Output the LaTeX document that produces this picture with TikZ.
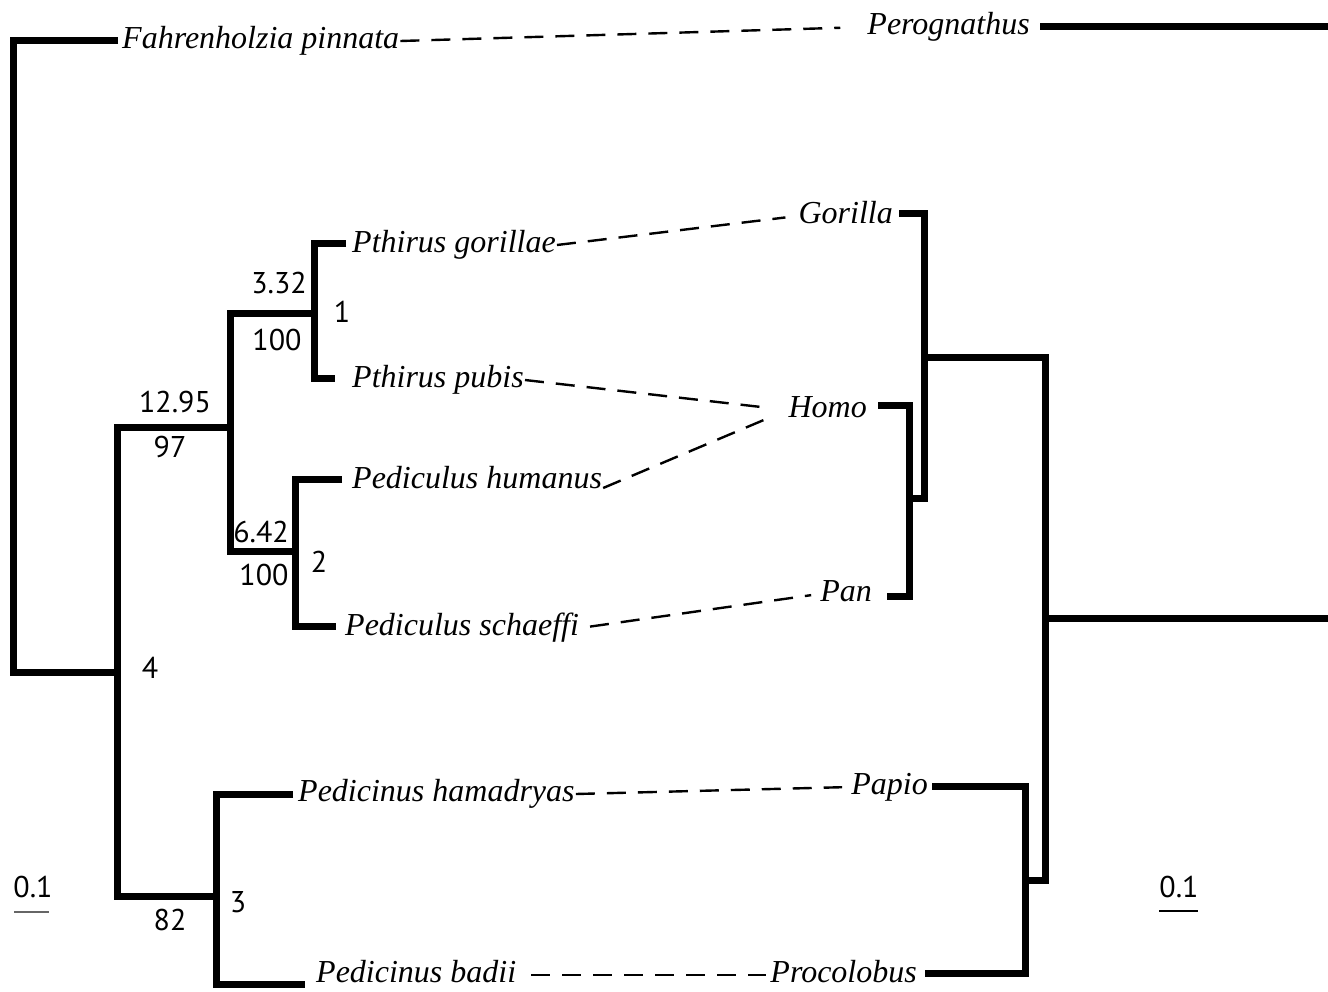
\documentclass[tikz,border=0pt]{standalone}
\usepackage{fontspec}
\setmainfont{Liberation Serif}
\newfontfamily\numfont{PT Sans}
\usetikzlibrary{calc}

\begin{document}
\begin{tikzpicture}[x=1pt, y=-1pt,
    branch/.style={line width=7pt, line cap=butt, line join=miter},
    assoc/.style={line width=2.4pt, dash pattern=on 19pt off 12pt},
    taxon/.style={font=\fontsize{32}{37}\selectfont\itshape, inner sep=1pt,
                  text height=21pt, text depth=7pt},
    num/.style={font=\fontsize{30}{34}\selectfont\numfont, inner sep=0pt},
    scalebar/.style={line width=1.2pt, black!60},
]
\useasboundingbox (0,0) rectangle (1328,991);

% ===== parasite tree =====
\coordinate (n0) at (13,356);
\coordinate (n4) at (117,672);
\coordinate (n5) at (230,427);
\coordinate (n1) at (314,313);
\coordinate (n2) at (295,551);
\coordinate (n3) at (216,896);
\coordinate (tfah)  at (118,40);
\coordinate (tpgor) at (346,243);
\coordinate (tppub) at (335,378);
\coordinate (tphum) at (342,479);
\coordinate (tpsch) at (336,626);
\coordinate (tpham) at (293,794);
\coordinate (tpbad) at (305,984);

\draw[branch] (tfah) -| (n0 |- n4) -- (n4);
\draw[branch] (n5) -| (n4 |- n3) -- (n3);
\draw[branch] (n1) -| (n5 |- n2) -- (n2);
\draw[branch] (tpgor) -| (n1 |- tppub) -- (tppub);
\draw[branch] (tphum) -| (n2 |- tpsch) -- (tpsch);
\draw[branch] (tpham) -| (n3 |- tpbad) -- (tpbad);

\node[taxon, anchor=base west] (fah)  at (121,48)  {Fahrenholzia pinnata};
\node[taxon, anchor=base west] (pgor) at (351,252) {Pthirus gorillae};
\node[taxon, anchor=base west] (ppub) at (351,387) {Pthirus pubis};
\node[taxon, anchor=base west] (phum) at (351,488) {Pediculus humanus};
\node[taxon, anchor=base west] (psch) at (344,635) {Pediculus schaeffi};
\node[taxon, anchor=base west] (pham) at (297,801) {Pedicinus hamadryas};
\node[taxon, anchor=base west] (pbad) at (315,982) {Pedicinus badii};

% node numbers and support values
\node[num] (bl1)  at (279,283) {3.32};
\node[num] (bs1)  at (277,340) {100};
\node[num] (nn1)  at (342,312) {1};
\node[num] (bl5)  at (175,402) {12.95};
\node[num] (bs5)  at (170,447) {97};
\node[num] (bl2)  at (261,532) {6.42};
\node[num] (bs2)  at (264,575) {100};
\node[num] (nn2)  at (319,562) {2};
\node[num] (nn4)  at (150,668) {4};
\node[num] (bs3)  at (170,920) {82};
\node[num] (nn3)  at (238,902) {3};

% ===== host tree =====
\coordinate (h1) at (909,498);
\coordinate (h2) at (924,357);
\coordinate (h3) at (1025,880);
\coordinate (h4) at (1045,618);
\coordinate (tpero) at (1040,26);
\coordinate (tgor)  at (899,213);
\coordinate (thom)  at (878,405);
\coordinate (tpan)  at (887,596);
\coordinate (tpap)  at (932,786);
\coordinate (tpro)  at (925,973);
\coordinate (epero) at (1328,26);
\coordinate (eroot) at (1328,618);

\draw[branch] (tpero) -- (epero);
\draw[branch] (thom) -| (h1 |- tpan) -- (tpan);
\draw[branch] (tgor) -| (h2 |- h1) -- (h1);
\draw[branch] (tpap) -| (h3 |- tpro) -- (tpro);
\draw[branch] (h2) -| (h4 |- h3) -- (h3);
\draw[branch] (h4) -- (eroot);

\node[taxon, anchor=base east] (pero) at (1031,34)  {Perognathus};
\node[taxon, anchor=base east] (gor)  at (894,223)  {Gorilla};
\node[taxon, anchor=base east] (hom)  at (868,417)  {Homo};
\node[taxon, anchor=base east] (pan)  at (873,601)  {Pan};
\node[taxon, anchor=base east] (pap)  at (929,794)  {Papio};
\node[taxon, anchor=base east] (pro)  at (918,982)  {Procolobus};

% ===== associations =====
\draw[assoc, shorten >=26pt] (fah.east) -- (pero.west);
\draw[assoc, shorten >=12pt] (pgor.east) -- (gor.west);
\draw[assoc, shorten >=18pt] (ppub.east) -- (hom.west);
\draw[assoc, shorten >=18pt] (phum.base east) -- (hom.west);
\draw[assoc, shorten <=10pt, shorten >=8pt] (psch.east) -- (pan.west);
\draw[assoc, shorten >=8pt] (pham.east) -- (pap.west);
\draw[assoc, shorten <=14pt, shorten >=3pt] (pbad.east) -- (pro.west);

% ===== scale bars =====
\node[num] (sl) at (33,887) {0.1};
\node[num] (sr) at (1179,887) {0.1};
\draw[scalebar] (14,912) -- (49,912);
\draw[scalebar, black, line width=1.8pt] (1159,911) -- (1198,911);
\end{tikzpicture}
\end{document}
